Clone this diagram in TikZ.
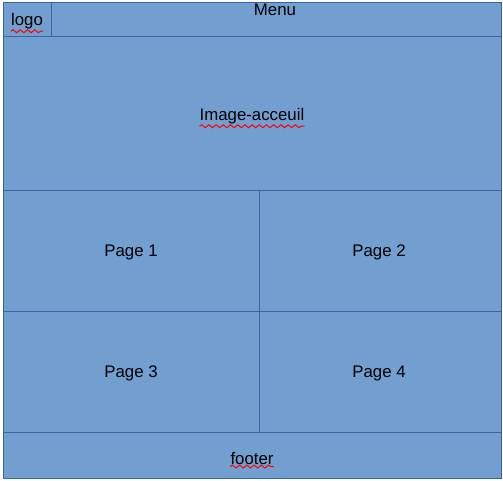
\documentclass[tikz,border=0pt]{standalone}
\usepackage{fontspec}
\setmainfont{Liberation Sans}
\usetikzlibrary{decorations.pathmorphing}
\definecolor{cellfill}{HTML}{729FCF}
\definecolor{cellline}{HTML}{3465A4}
\begin{document}
\begin{tikzpicture}[x=0.75pt,y=-0.75pt,
  cell/.style={draw=cellline,fill=cellfill,line width=0.7pt},
  lbl/.style={font=\fontsize{12.6pt}{15pt}\selectfont,inner sep=0pt,text=black},
  squiggle/.style={draw=red,line width=0.75pt,decorate,
    decoration={snake,amplitude=1.1pt,segment length=5.4pt}}]
\useasboundingbox (0,0) rectangle (503,481);
% layout blocks
\path[cell] (3,2) rectangle (51,36);
\path[cell] (51,2) rectangle (501,36);
\path[cell] (3,36) rectangle (501,190);
\path[cell] (3,190) rectangle (259,311);
\path[cell] (259,190) rectangle (501,311);
\path[cell] (3,311) rectangle (259,432);
\path[cell] (259,311) rectangle (501,432);
\path[cell] (3,432) rectangle (501,478);
% labels
\node[lbl] (logo) at (27,21) {logo};
\node[lbl] (menu) at (275,10) {Menu};
\node[lbl] (img) at (252,116) {Image-acceuil};
\node[lbl] (p1) at (131,252) {Page 1};
\node[lbl] (p2) at (379,252) {Page 2};
\node[lbl] (p3) at (131,373) {Page 3};
\node[lbl] (p4) at (379,373) {Page 4};
\node[lbl] (foot) at (252,458) {footer};
% spell-check underlines
\draw[squiggle] ([yshift=-1.6pt]logo.south west) -- ([yshift=-1.6pt]logo.south east);
\draw[squiggle] ([yshift=-1.6pt]img.south west) -- ([yshift=-1.6pt]img.south east);
\draw[squiggle] ([yshift=-1.6pt]foot.south west) -- ([yshift=-1.6pt]foot.south east);
\end{tikzpicture}
\end{document}
